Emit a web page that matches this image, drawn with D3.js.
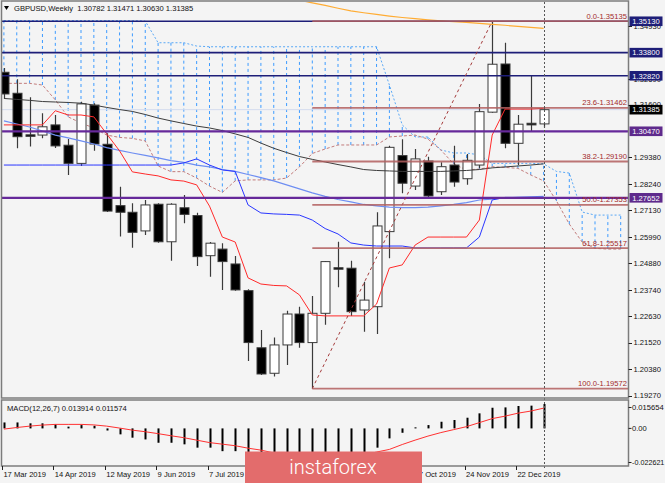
<!DOCTYPE html>
<html>
<head>
<meta charset="utf-8">
<script src="https://cdn.jsdelivr.net/npm/d3@7"></script>
<style>
  body { margin: 0; background: #f4f4f4; }
  svg { display: block; font-family: "Liberation Sans", Arial, sans-serif; }
</style>
</head>
<body>
<svg id="chart" width="665" height="483"></svg>
<script>
// weekly GBPUSD candles, 17 Mar 2019 .. 5 Jan 2020
const open  = [1.3297,1.3208,1.3032,1.3031,1.3074,1.2988,1.2911,1.3158,1.2992,1.2732,1.2704,1.2625,1.2738,1.2579,1.2723,1.2690,1.2520,1.2548,1.2485,1.2372,1.2130,1.2022,1.2142,1.2273,1.2152,1.2276,1.2469,1.2467,1.2290,1.2304,1.2622,1.2944,1.2815,1.2921,1.2791,1.2904,1.2846,1.2904,1.3128,1.3332,1.2996,1.3081,1.30782];
const high  = [1.3315,1.3267,1.3191,1.3123,1.3116,1.3014,1.3172,1.3166,1.3039,1.2812,1.2742,1.2756,1.2742,1.2742,1.2777,1.2702,1.2578,1.2573,1.2519,1.2378,1.2205,1.2174,1.2287,1.2304,1.2349,1.2498,1.2579,1.2499,1.2410,1.2704,1.2986,1.3013,1.2972,1.2939,1.2916,1.2986,1.2951,1.3163,1.3514,1.3422,1.3116,1.3281,1.31471];
const low   = [1.3188,1.2975,1.2982,1.3017,1.2976,1.2862,1.2900,1.2965,1.2705,1.2601,1.2554,1.2608,1.2575,1.2499,1.2657,1.2476,1.2431,1.2375,1.2372,1.2074,1.2015,1.2008,1.2057,1.2130,1.1957,1.2227,1.2386,1.2265,1.2198,1.2188,1.2509,1.2784,1.2798,1.2767,1.2777,1.2812,1.2820,1.2890,1.3125,1.2975,1.2904,1.3048,1.30630];
const close = [1.3205,1.3024,1.3030,1.3066,1.2985,1.2911,1.3163,1.2993,1.2709,1.2704,1.2619,1.2735,1.2579,1.2738,1.2695,1.2516,1.2573,1.2495,1.2375,1.2152,1.2019,1.2142,1.2273,1.2152,1.2276,1.2495,1.2467,1.2283,1.2332,1.2646,1.2979,1.2827,1.2930,1.2773,1.2897,1.2832,1.2924,1.3130,1.3331,1.2996,1.3077,1.3074,1.31385];

// ichimoku
const tenkan = [1.3074,1.3074,1.3074,1.3074,1.3134,1.3116,1.3116,1.3108,1.3036,1.2964,1.2875,1.2866,1.2858,1.2841,1.2836,1.2820,1.2730,1.2599,1.2578,1.2426,1.2400,1.2394,1.2392,1.2354,1.2269,1.2265,1.2265,1.2265,1.2265,1.2315,1.2468,1.2481,1.2565,1.2599,1.2599,1.2599,1.2599,1.2671,1.3031,1.3141,1.3141,1.3141,1.3144];
const kijun = [1.2904,1.2904,1.2904,1.2904,1.2904,1.2904,1.2904,1.2904,1.2904,1.2904,1.2904,1.2904,1.2904,1.2904,1.2913,1.2930,1.2904,1.2883,1.2877,1.2735,1.2701,1.2697,1.2695,1.2692,1.2671,1.2635,1.2612,1.2574,1.2565,1.2561,1.2561,1.2561,1.2553,1.2553,1.2553,1.2553,1.2553,1.2599,1.2756,1.2767,1.2767,1.2767,1.2767];
const spanA = [1.3250,1.3250,1.3250,1.3243,1.3180,1.3108,1.3082,1.3061,1.3031,1.3021,1.3017,1.3006,1.2900,1.2876,1.2876,1.2849,1.2815,1.2788,1.2837,1.2841,1.2841,1.2841,1.2849,1.2896,1.2953,1.2972,1.2989,1.2989,1.2989,1.2989,1.3023,1.3027,1.3031,1.3014,1.2968,1.2909,1.2883,1.2887,1.2897,1.2894,1.2890,1.2862,1.2837,1.2752,1.2654,1.2578,1.2551,1.2548,1.2548];
const spanB = [1.3516,1.3516,1.3516,1.3516,1.3516,1.3516,1.3516,1.3516,1.3516,1.3516,1.3516,1.3514,1.3422,1.3422,1.3422,1.3408,1.3405,1.3405,1.3405,1.3405,1.3405,1.3405,1.3405,1.3405,1.3405,1.3405,1.3405,1.3405,1.3405,1.3405,1.3243,1.3074,1.3023,1.3023,1.2968,1.2955,1.2955,1.2947,1.2911,1.2911,1.2911,1.2911,1.2909,1.2877,1.2870,1.2705,1.2692,1.2692,1.2692];

// moving averages
const maBlack = [1.3186,1.3182,1.3178,1.3173,1.3171,1.3169,1.3166,1.3158,1.3148,1.3139,1.3131,1.3118,1.3103,1.3091,1.3080,1.3069,1.3061,1.3050,1.3036,1.3021,1.2997,1.2975,1.2957,1.2940,1.2928,1.2917,1.2906,1.2896,1.2885,1.2881,1.2879,1.2877,1.2877,1.2877,1.2877,1.2879,1.2881,1.2885,1.2892,1.2896,1.2900,1.2904,1.2909];
const maLight = [1.3091,1.3078,1.3065,1.3048,1.3031,1.3019,1.3006,1.2993,1.2978,1.2966,1.2955,1.2945,1.2934,1.2923,1.2915,1.2904,1.2896,1.2885,1.2877,1.2864,1.2851,1.2837,1.2820,1.2803,1.2786,1.2771,1.2758,1.2748,1.2737,1.2731,1.2726,1.2724,1.2724,1.2726,1.2731,1.2737,1.2745,1.2756,1.2760,1.2765,1.2767,1.2769,1.2771];
const maOrange = [null,null,null,null,null,null,null,null,null,null,null,null,null,null,null,null,null,null,null,null,null,null,null,1.3602,1.3591,1.3580,1.3568,1.3557,1.3549,1.3542,1.3535,1.3529,1.3524,1.3519,1.3515,1.3511,1.3508,1.3504,1.3500,1.3496,1.3491,1.3487,1.3483];

// MACD(12,26,7)
const macdHist = [0.0034,0.0034,0.0029,0.0029,0.0023,0.0010,0.0019,0.0015,-0.0012,-0.0034,-0.0053,-0.0063,-0.0082,-0.0082,-0.0091,-0.0110,-0.0110,-0.0130,-0.0130,-0.0155,-0.0180,-0.0200,-0.0226,-0.0220,-0.0210,-0.0195,-0.0175,-0.0155,-0.0135,-0.0110,-0.0057,-0.0025,0.0006,0.0019,0.0038,0.0048,0.0061,0.0086,0.0118,0.0120,0.0128,0.0130,0.013914];
const macdSignal = [-0.0004,0.0005,0.0013,0.0019,0.0023,0.0023,0.0023,0.0020,0.0013,0.0002,-0.0010,-0.0019,-0.0030,-0.0042,-0.0053,-0.0067,-0.0081,-0.0090,-0.0099,-0.0113,-0.0124,-0.0140,-0.0155,-0.0168,-0.0176,-0.0180,-0.0178,-0.0168,-0.0152,-0.0135,-0.0120,-0.0092,-0.0067,-0.0044,-0.0024,-0.0007,0.0010,0.0033,0.0056,0.0070,0.0087,0.0099,0.011574];

// levels and fibo
const navyLevels = [1.35130, 1.33800, 1.32820];
const purpleLevels = [1.30470, 1.27652];
const fibPct = ['0.0', '23.6', '38.2', '50.0', '61.8', '100.0'];
const fibPrice = [1.35135, 1.31462, 1.29190, 1.27353, 1.25517, 1.19572];
const fibFrom = 24, fibTo = 38;

// ticks not covered by a level box
const priceTicks = [1.19270,1.20380,1.21520,1.22630,1.23740,1.24880,1.25990,1.27130,1.28240,1.29380,1.31600,1.32690,1.34930];
const macdTicks = [0.015654, 0, -0.022621];
// labels left visible by the watermark
const dateTickIndex = [0,4,8,12,16,32,36,40];
const dateTickLabels = ['17 Mar 2019','14 Apr 2019','12 May 2019','9 Jun 2019','7 Jul 2019','27 Oct 2019','24 Nov 2019','22 Dec 2019'];

const W = 665, H = 483;
const svg = d3.select('#chart');

const x = d3.scaleLinear().domain([0, 48]).range([3.9, 620.7]);
const y = d3.scaleLinear().domain([1.19270, 1.35950]).range([395.7, 1.9]);
const ym = d3.scaleLinear().domain([-0.022621, 0.015654]).range([468, 401]);

svg.append('rect').attr('width', W).attr('height', H).attr('fill', '#f4f4f4');

const defs = svg.append('defs');
defs.append('clipPath').attr('id', 'clipMain')
  .append('rect').attr('x', 2).attr('y', 2).attr('width', 626).attr('height', 395.5);
defs.append('clipPath').attr('id', 'clipMacd')
  .append('rect').attr('x', 2).attr('y', 400.5).attr('width', 626).attr('height', 65.5);

const main = svg.append('g').attr('clip-path', 'url(#clipMain)');

// cloud hatching
main.selectAll('line.hatch')
  .data(spanA)
  .enter()
  .append('line')
  .attr('class', 'hatch')
  .attr('x1', (d, i) => x(i))
  .attr('x2', (d, i) => x(i))
  .attr('y1', d => y(d))
  .attr('y2', (d, i) => y(spanB[i]))
  .attr('stroke', '#3d9bff')
  .attr('stroke-width', 1)
  .attr('stroke-dasharray', '3,3');

const line = d3.line()
  .defined(d => d != null)
  .x((d, i) => x(i))
  .y(d => y(d));

main.append('path').attr('d', line(spanB))
  .attr('fill', 'none').attr('stroke', '#5aa8f5').attr('stroke-width', 1).attr('stroke-dasharray', '2,2');
main.append('path').attr('d', line(spanA))
  .attr('fill', 'none').attr('stroke', '#c27c7c').attr('stroke-width', 1).attr('stroke-dasharray', '3,2');

// bid line
main.append('line')
  .attr('x1', 2).attr('x2', 628)
  .attr('y1', y(close[42])).attr('y2', y(close[42]))
  .attr('stroke', '#d3dbef').attr('stroke-width', 1);

// candles
const candles = main.selectAll('g.candle')
  .data(open.map((o, i) => ({ i, o, h: high[i], l: low[i], c: close[i] })))
  .enter()
  .append('g')
  .attr('class', 'candle');

candles.append('line')
  .attr('x1', d => Math.round(x(d.i)) + 0.5)
  .attr('x2', d => Math.round(x(d.i)) + 0.5)
  .attr('y1', d => y(d.h))
  .attr('y2', d => y(d.l))
  .attr('stroke', '#3a3a3a')
  .attr('stroke-width', 1.2);

candles.append('rect')
  .attr('x', d => Math.round(x(d.i)) - 4)
  .attr('width', 9)
  .attr('y', d => y(Math.max(d.o, d.c)))
  .attr('height', d => Math.max(1.5, Math.abs(y(d.o) - y(d.c))))
  .attr('fill', d => d.c >= d.o ? '#ffffff' : '#000000')
  .attr('stroke', '#3a3a3a')
  .attr('stroke-width', 1);

// indicator lines
main.append('path').attr('d', line(maBlack))
  .attr('fill', 'none').attr('stroke', '#3c3c3c').attr('stroke-width', 1);
main.append('path').attr('d', line(maLight))
  .attr('fill', 'none').attr('stroke', '#6e8ef2').attr('stroke-width', 1.2);
main.append('path').attr('d', line(maOrange))
  .attr('fill', 'none').attr('stroke', '#ffac33').attr('stroke-width', 1.2);
main.append('path').attr('d', line(kijun))
  .attr('fill', 'none').attr('stroke', '#2a36ff').attr('stroke-width', 1);
main.append('path').attr('d', line(tenkan))
  .attr('fill', 'none').attr('stroke', '#ff2a2a').attr('stroke-width', 1);

// horizontal levels
main.selectAll('line.navy')
  .data(navyLevels)
  .enter()
  .append('line')
  .attr('x1', 2).attr('x2', 628)
  .attr('y1', d => y(d)).attr('y2', d => y(d))
  .attr('stroke', '#1e1e78').attr('stroke-width', 1.6);

main.selectAll('line.purple')
  .data(purpleLevels)
  .enter()
  .append('line')
  .attr('x1', 2).attr('x2', 628)
  .attr('y1', d => y(d)).attr('y2', d => y(d))
  .attr('stroke', '#66299a').attr('stroke-width', 2.2);

// fibonacci
main.append('line')
  .attr('x1', x(fibFrom)).attr('y1', y(fibPrice[5]))
  .attr('x2', x(fibTo)).attr('y2', y(fibPrice[0]))
  .attr('stroke', '#a33a3a').attr('stroke-width', 1).attr('stroke-dasharray', '3,3');

main.selectAll('line.fib')
  .data(fibPrice)
  .enter()
  .append('line')
  .attr('x1', x(fibFrom)).attr('x2', 628)
  .attr('y1', d => y(d)).attr('y2', d => y(d))
  .attr('stroke', '#b35f5f').attr('stroke-width', 1.8).attr('opacity', 0.85);

main.selectAll('text.fib')
  .data(fibPrice)
  .enter()
  .append('text')
  .attr('x', 627)
  .attr('y', d => y(d) - 2.5)
  .attr('text-anchor', 'end')
  .attr('font-size', '7.6px')
  .attr('fill', '#a32a2a')
  .text((d, i) => `${fibPct[i]}-${d.toFixed(5)}`);

// header
svg.append('path').attr('d', 'M4,6 L9,6 L6.5,10 Z').attr('fill', '#000');
svg.append('text')
  .attr('x', 14).attr('y', 11)
  .attr('font-size', '7.6px')
  .attr('fill', '#111')
  .attr('xml:space', 'preserve')
  .text(`GBPUSD,Weekly  ${open[42].toFixed(5)} ${high[42].toFixed(5)} ${low[42].toFixed(5)} ${close[42].toFixed(5)}`);

// MACD panel
const macd = svg.append('g').attr('clip-path', 'url(#clipMacd)');

macd.selectAll('rect.hist')
  .data(macdHist)
  .enter()
  .append('rect')
  .attr('x', (d, i) => Math.round(x(i)) - 0.5)
  .attr('width', 2)
  .attr('y', d => Math.min(ym(0), ym(d)))
  .attr('height', d => Math.abs(ym(d) - ym(0)))
  .attr('fill', '#000');

macd.append('path')
  .attr('d', d3.line().x((d, i) => x(i)).y(d => ym(d))(macdSignal))
  .attr('fill', 'none').attr('stroke', '#ff3030').attr('stroke-width', 1);

svg.append('text')
  .attr('x', 7).attr('y', 411)
  .attr('font-size', '7.6px')
  .attr('fill', '#111')
  .text(`MACD(12,26,7) ${macdHist[42].toFixed(6)} ${macdSignal[42].toFixed(6)}`);

// current bar marker
svg.append('line')
  .attr('x1', Math.round(x(42)) + 0.5).attr('x2', Math.round(x(42)) + 0.5)
  .attr('y1', 2).attr('y2', 470)
  .attr('stroke', '#555').attr('stroke-width', 1).attr('stroke-dasharray', '2,2');

// frames
svg.append('rect').attr('x', 1.5).attr('y', 1).attr('width', 627).attr('height', 397)
  .attr('fill', 'none').attr('stroke', '#7c7c7c').attr('stroke-width', 1.5);
svg.append('rect').attr('x', 1.5).attr('y', 400).attr('width', 627).attr('height', 66)
  .attr('fill', 'none').attr('stroke', '#7c7c7c').attr('stroke-width', 1.5);

// right price axis
const axisG = svg.append('g');
axisG.selectAll('line.pt')
  .data(priceTicks)
  .enter()
  .append('line')
  .attr('x1', 628.5).attr('x2', 632)
  .attr('y1', d => Math.round(y(d)) + 0.5).attr('y2', d => Math.round(y(d)) + 0.5)
  .attr('stroke', '#222');
axisG.selectAll('text.pt')
  .data(priceTicks)
  .enter()
  .append('text')
  .attr('x', 633.5)
  .attr('y', d => y(d) + 2.7)
  .attr('font-size', '7.6px')
  .attr('fill', '#111')
  .text(d => d.toFixed(5));

const boxes = [
  { v: navyLevels[0], c: '#1e1e78' },
  { v: navyLevels[1], c: '#1e1e78' },
  { v: navyLevels[2], c: '#1e1e78' },
  { v: close[42], c: '#000000' },
  { v: purpleLevels[0], c: '#5e2a8c' },
  { v: purpleLevels[1], c: '#5e2a8c' },
];
const boxG = axisG.selectAll('g.box')
  .data(boxes)
  .enter()
  .append('g');
boxG.append('rect')
  .attr('x', 629.5).attr('width', 33)
  .attr('y', d => y(d.v) - 4.8).attr('height', 9.6)
  .attr('fill', d => d.c);
boxG.append('text')
  .attr('x', 646).attr('y', d => y(d.v) + 2.8)
  .attr('text-anchor', 'middle')
  .attr('font-size', '7.6px')
  .attr('fill', '#fff')
  .text(d => d.v.toFixed(5));

// MACD axis
const macdLabelY = d => Math.min(462.5, Math.max(407.5, ym(d)));
axisG.selectAll('line.mt')
  .data(macdTicks)
  .enter()
  .append('line')
  .attr('x1', 628.5).attr('x2', 631.5)
  .attr('y1', macdLabelY).attr('y2', macdLabelY)
  .attr('stroke', '#222');
axisG.selectAll('text.mt')
  .data(macdTicks)
  .enter()
  .append('text')
  .attr('x', 632)
  .attr('y', d => macdLabelY(d) + 2.7)
  .attr('font-size', d => d < 0 ? '7.2px' : '7.6px')
  .attr('fill', '#111')
  .text(d => d === 0 ? '0.00' : d.toFixed(6));

// date axis
axisG.selectAll('line.dt')
  .data(dateTickIndex)
  .enter()
  .append('line')
  .attr('x1', d => Math.round(x(d)) - 1.5).attr('x2', d => Math.round(x(d)) - 1.5)
  .attr('y1', 466).attr('y2', 470)
  .attr('stroke', '#222');
axisG.selectAll('text.dt')
  .data(dateTickIndex)
  .enter()
  .append('text')
  .attr('x', d => x(d) - 0.5)
  .attr('y', 477)
  .attr('font-size', '7.6px')
  .attr('fill', '#111')
  .text((d, i) => dateTickLabels[i]);

// watermark
svg.append('rect')
  .attr('x', 245).attr('y', 451.5).attr('width', 177).attr('height', 32)
  .attr('fill', '#e36c6c');
svg.append('text')
  .attr('x', 333).attr('y', 473.5)
  .attr('text-anchor', 'middle')
  .attr('font-family', 'Roboto, "Open Sans", sans-serif')
  .attr('font-weight', 300)
  .attr('font-size', '20px')
  .attr('fill', '#ffffff')
  .text('instaforex');
</script>
</body>
</html>
